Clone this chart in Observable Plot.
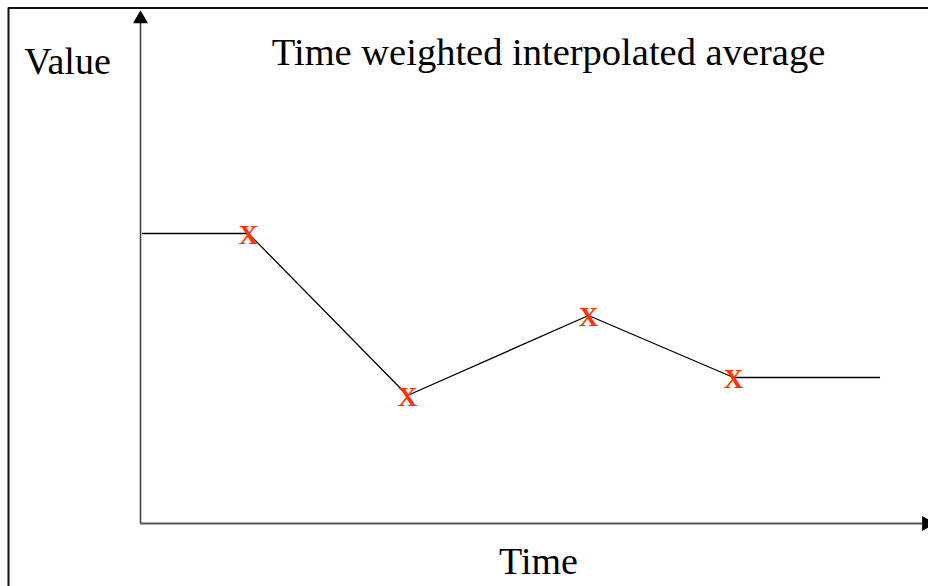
<!DOCTYPE html>
<html>
<head>
<meta charset="utf-8">
<script src="https://cdn.jsdelivr.net/npm/d3@7"></script>
<script src="https://cdn.jsdelivr.net/npm/@observablehq/plot@0.6"></script>
<style>
  html, body { margin: 0; padding: 0; background: #fff; }
  #chart svg { display: block; }
</style>
</head>
<body>
<div id="chart"></div>
<script>
// Interpolated series (time, value)
const times = [0.1, 5.4, 13.35, 22.4, 29.65, 36.95];
const values = [29.0, 29.0, 12.8, 20.8, 14.6, 14.6];
// Sample points marked with "X"
const sampleTimes = [5.4, 13.35, 22.4, 29.65];
const sampleValues = [29.0, 12.8, 20.8, 14.6];
// Texts
const titleText = "Time weighted interpolated average";
const xLabel = "Time";
const yLabel = "Value";
const markerLabel = "X";

const line = times.map((t, i) => ({t, v: values[i]}));
const samples = sampleTimes.map((t, i) => ({t, v: sampleValues[i]}));

const serif = "Liberation Serif, Times New Roman, serif";

const chart = Plot.plot({
  width: 928,
  height: 586,
  margin: 0,
  x: {domain: [0, 39.4], range: [140, 928], axis: null},
  y: {domain: [0, 51.3], range: [523, 10], axis: null},
  style: {background: "#fff", overflow: "hidden"},
  marks: [
    // outer border (left and top edges visible)
    Plot.ruleX([-6.6], {y1: 51.55, y2: -10, stroke: "#111", strokeWidth: 2}),
    Plot.ruleY([51.55], {x1: -6.6, x2: 40, stroke: "#111", strokeWidth: 2}),
    // axes
    Plot.ruleX([0], {y1: 0, y2: 50.0, stroke: "#444", strokeWidth: 1.6}),
    Plot.ruleY([0], {x1: 0, x2: 39.1, stroke: "#555", strokeWidth: 2}),
    Plot.dot([{t: 0, v: 50.45}], {x: "t", y: "v", symbol: "triangle", r: 5.6, fill: "#000", stroke: "none"}),
    Plot.dot([{t: 39.3, v: 0}], {x: "t", y: "v", symbol: "triangle", r: 5.6, fill: "#000", stroke: "none", rotate: 90}),
    // series
    Plot.line(line, {x: "t", y: "v", stroke: "#000", strokeWidth: 1.3}),
    Plot.text(samples, {x: "t", y: "v", text: () => markerLabel, fill: "#ff3300", fontFamily: serif, fontWeight: "bold", fontSize: 27, dy: 2, lineAnchor: "middle"}),
    // labels
    Plot.text([titleText], {x: () => 20.4, y: () => 45.9, text: d => d, fontFamily: serif, fontSize: 38.5, fill: "#000", lineAnchor: "bottom", textAnchor: "middle"}),
    Plot.text([yLabel], {x: () => -3.65, y: () => 45.0, text: d => d, fontFamily: serif, fontSize: 38, fill: "#000", lineAnchor: "bottom", textAnchor: "middle"}),
    Plot.text([xLabel], {x: () => 19.9, y: () => -5.0, text: d => d, fontFamily: serif, fontSize: 38, fill: "#000", lineAnchor: "bottom", textAnchor: "middle"})
  ]
});
document.getElementById("chart").appendChild(chart);
</script>
</body>
</html>
